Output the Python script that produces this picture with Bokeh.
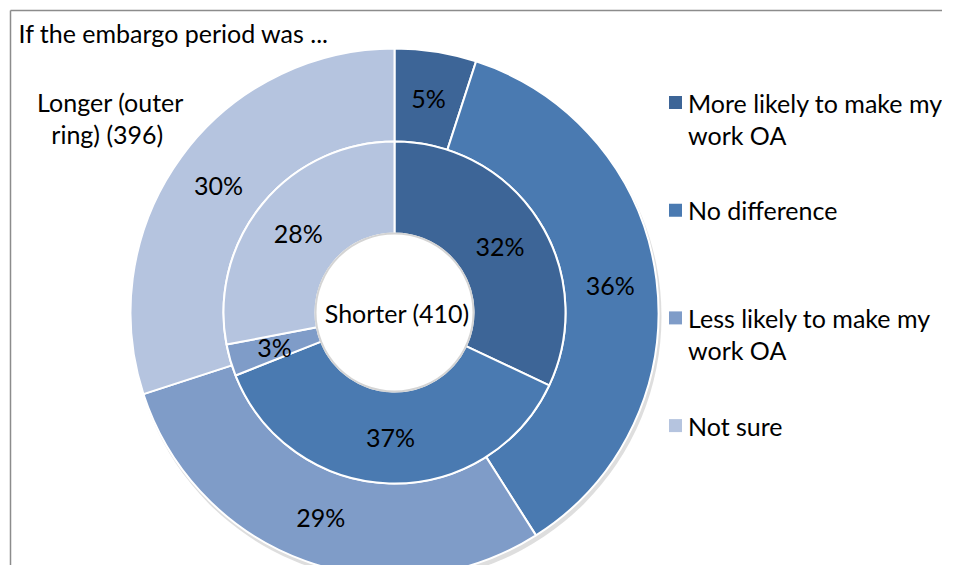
import numpy as np
from bokeh.plotting import figure
from bokeh.models import Range1d
from bokeh.embed import file_html
from bokeh.resources import INLINE
from bokeh.core.properties import value

# ---------------- data ----------------
categories = ["More likely to make my work OA", "No difference",
              "Less likely to make my work OA", "Not sure"]
legend_lines = [["More likely to make my", "work OA"], ["No difference"],
                ["Less likely to make my", "work OA"], ["Not sure"]]
shorter_pct = [32, 37, 3, 28]   # inner ring  (n = 410)
longer_pct = [5, 36, 29, 30]    # outer ring  (n = 396)
title_text = "If the embargo period was ..."
inner_name = "Shorter  (410)"
outer_name = ["Longer (outer", "ring)  (396)"]
colors = ["#3D6597", "#4A7AB1", "#7F9CC8", "#B5C4DF"]

# ---------------- layout ----------------
W, H = 942, 565
PAGE_H = 581
FONT = value("Lato")
FS = "25px"

def Y(py):  # picture pixel y -> data y
    return PAGE_H - py

cx, cy = 394, Y(312)
r_hole, r_mid, r_out = 79, 171, 264

p = figure(width=W, height=H, output_backend="svg", toolbar_location=None,
           x_range=Range1d(0, W), y_range=Range1d(PAGE_H - H, PAGE_H),
           min_border=0)
p.axis.visible = False
p.grid.visible = False
p.outline_line_color = None
p.background_fill_color = "white"
p.border_fill_color = "white"

# chart border (top and left visible)
p.segment(x0=[10, 10], y0=[Y(10), Y(10)], x1=[W, 10], y1=[Y(10), PAGE_H - H],
          line_color="#8c8c8c", line_width=1.5)

# soft shadow under the doughnut
p.circle(x=cx + 2, y=cy - 4, radius=r_out + 1, fill_color="#a0a0a0", fill_alpha=0.35,
         line_color=None)


def ring(pcts, r_in, r_o):
    frac = np.array(pcts, dtype=float) / sum(pcts)
    cum = np.concatenate([[0.0], np.cumsum(frac)])
    start = np.pi / 2 - 2 * np.pi * cum[:-1]
    end = np.pi / 2 - 2 * np.pi * cum[1:]
    p.annular_wedge(x=cx, y=cy, inner_radius=r_in, outer_radius=r_o,
                    start_angle=list(start), end_angle=list(end), direction="clock",
                    fill_color=colors, line_color="white", line_width=2)
    mid = (start + end) / 2
    rl = (r_in + r_o) / 2
    p.text(x=list(cx + rl * np.cos(mid)), y=list(cy + rl * np.sin(mid)),
           text=[f"{v}%" for v in pcts], text_font=FONT, text_font_size=FS,
           text_align="center", text_baseline="middle", text_color="black")


ring(longer_pct, r_mid, r_out)
ring(shorter_pct, r_hole, r_mid)

# hole
p.circle(x=cx, y=cy, radius=r_hole, fill_color="white", line_color="#d4d4d4", line_width=2)

# texts
p.text(x=[18], y=[Y(32)], text=[title_text], text_font=FONT, text_font_size=FS,
       text_align="left", text_baseline="middle", text_color="black")
p.text(x=[cx + 6], y=[cy], text=[inner_name], text_font=FONT, text_font_size=FS,
       text_align="center", text_baseline="middle", text_color="black")
p.text(x=[110, 110], y=[Y(101), Y(133)], text=outer_name, text_font=FONT,
       text_font_size=FS, text_align="center", text_baseline="middle", text_color="black")

# legend
leg_x, leg_y0, leg_step, line_step, sq = 675, 102, 107.7, 32, 13
for i, (lines, c) in enumerate(zip(legend_lines, colors)):
    y0 = leg_y0 + i * leg_step
    p.rect(x=[leg_x], y=[Y(y0)], width=sq, height=sq, fill_color=c, line_color=None)
    p.text(x=[leg_x + 12.5] * len(lines), y=[Y(y0 + k * line_step) for k in range(len(lines))],
           text=lines, text_font=FONT, text_font_size=FS, text_align="left",
           text_baseline="middle", text_color="black")

open("out.html", "w").write(file_html(p, INLINE))
